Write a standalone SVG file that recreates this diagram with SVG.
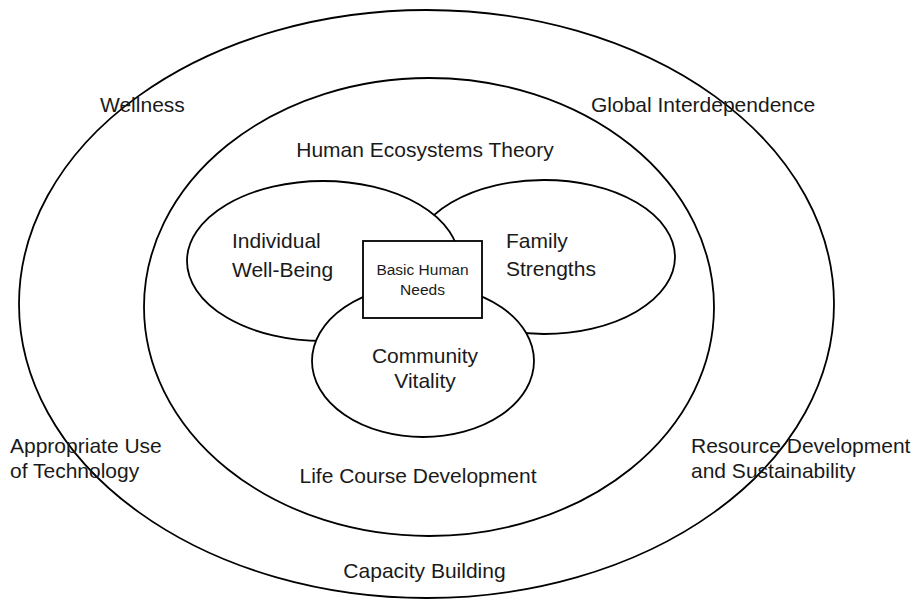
<svg xmlns="http://www.w3.org/2000/svg" width="914" height="599" viewBox="0 0 914 599">
  <style>
    .shape { fill: #ffffff; stroke: #000000; stroke-width: 1.8; }
    .ring { fill: none; stroke: #000000; stroke-width: 1.8; }
    .lbl { font-family: "Liberation Sans", Arial, sans-serif; font-size: 21px; fill: #1a1a1a; }
    .small { font-family: "Liberation Sans", Arial, sans-serif; font-size: 15.5px; fill: #1a1a1a; }
  </style>
  <rect x="0" y="0" width="914" height="599" fill="#ffffff"/>

  <g id="outer-ring">
    <ellipse class="ring" cx="426.5" cy="304" rx="407.5" ry="294"/>
  </g>
  <g id="inner-ring">
    <ellipse class="ring" cx="429" cy="307" rx="285" ry="229"/>
  </g>

  <g id="family-strengths">
    <ellipse class="shape" cx="544" cy="257" rx="131" ry="77"/>
    <text class="lbl" x="506" y="248">Family</text>
    <text class="lbl" x="506" y="276">Strengths</text>
  </g>
  <g id="individual-well-being">
    <ellipse class="shape" cx="323" cy="261" rx="136" ry="80"/>
    <text class="lbl" x="232" y="248">Individual</text>
    <text class="lbl" x="232" y="277">Well-Being</text>
  </g>
  <g id="community-vitality">
    <ellipse class="shape" cx="423" cy="361" rx="111" ry="76"/>
    <text class="lbl" x="425" y="363" text-anchor="middle">Community</text>
    <text class="lbl" x="425" y="388" text-anchor="middle">Vitality</text>
  </g>
  <g id="basic-human-needs">
    <rect class="shape" x="363" y="241" width="119" height="77"/>
    <text class="small" x="422.5" y="275" text-anchor="middle">Basic Human</text>
    <text class="small" x="422.5" y="295" text-anchor="middle">Needs</text>
  </g>

  <g id="labels">
    <text class="lbl" x="100" y="112">Wellness</text>
    <text class="lbl" x="591" y="112">Global Interdependence</text>
    <text class="lbl" x="425" y="157" text-anchor="middle">Human Ecosystems Theory</text>
    <text class="lbl" x="10" y="453">Appropriate Use</text>
    <text class="lbl" x="10" y="478">of Technology</text>
    <text class="lbl" x="418" y="483" text-anchor="middle">Life Course Development</text>
    <text class="lbl" x="691" y="453">Resource Development</text>
    <text class="lbl" x="691" y="478">and Sustainability</text>
    <text class="lbl" x="424.5" y="578" text-anchor="middle">Capacity Building</text>
  </g>
</svg>
